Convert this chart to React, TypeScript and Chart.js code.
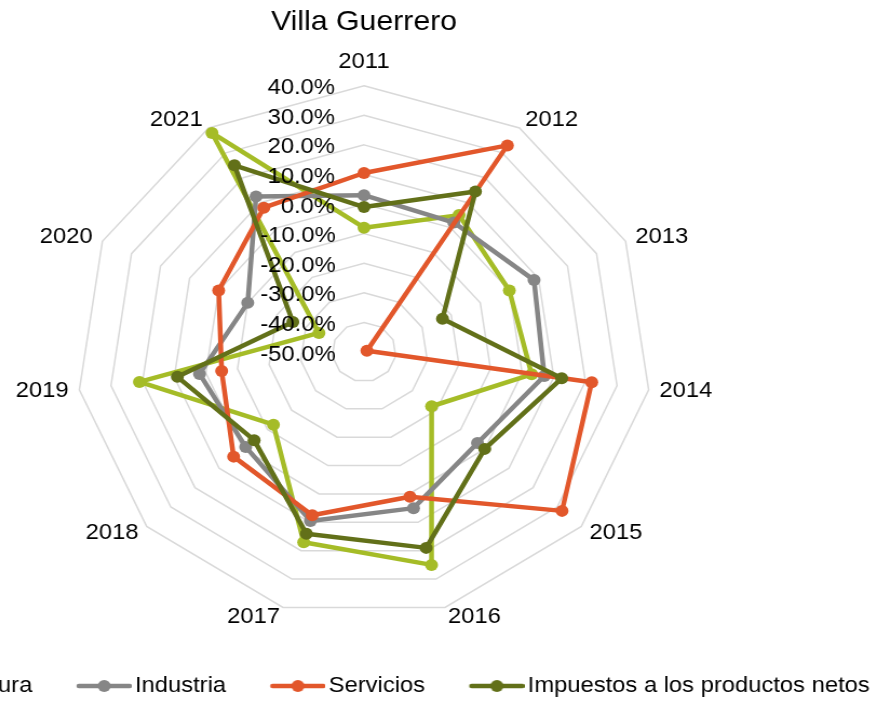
import React, { useEffect, useRef } from "react";
import { Chart, registerables } from "chart.js";

Chart.register(...registerables);

// ---------- data ----------
const title = "Villa Guerrero";
const categories = ["2011", "2012", "2013", "2014", "2015", "2016", "2017", "2018", "2019", "2020", "2021"];
const seriesNames = ["Agricultura", "Industria", "Servicios", "Impuestos a los productos netos"];
const agricultura = [-0.08, 0.05, 0.0, 0.03, -0.22, 0.25, 0.17, -0.125, 0.21, -0.345, 0.38];
const industria = [0.03, 0.02, 0.085, 0.07, -0.03, 0.05, 0.095, -0.01, 0.02, -0.1, 0.125];
const servicios = [0.105, 0.33, -0.49, 0.22, 0.32, 0.01, 0.075, 0.04, -0.05, 0.0, 0.08];
const impuestos = [-0.01, 0.145, -0.23, 0.125, 0.0, 0.19, 0.14, -0.045, 0.09, -0.255, 0.25];
const seriesColors = ["#A5BC27", "#868686", "#E2572B", "#627019"];
const axisMin = -0.5;
const axisMax = 0.4;
const axisStep = 0.1;

// ---------- layout constants ----------
const FONT = "'Liberation Sans', Arial, sans-serif";
const INNER_W = 1100;
const INNER_H = 701;
const STRETCH = 1.08;
const CSS_W = INNER_W * STRETCH;
const CENTER_X = 363.5;
const LABEL_SIZE = 22;

const measureCtx = typeof document !== "undefined" ? document.createElement("canvas").getContext("2d") : null;

function formatTick(v: number): string[] {
  const n = Math.round(v * 1000) / 10;
  const base = (n === 0 ? 0 : n).toFixed(1) + "%";
  if (!measureCtx) return ["", base];
  measureCtx.font = `${LABEL_SIZE}px ${FONT}`;
  const tw = measureCtx.measureText(base).width;
  const sw = measureCtx.measureText(" ").width;
  const trailing = tw + 2 * 27.5;
  const n2 = Math.max(0, Math.round(trailing / sw));
  // empty first line + small line height nudges the label slightly below its ring
  return ["", base + " ".repeat(n2)];
}

function makeIcon(color: string): HTMLCanvasElement {
  const c = document.createElement("canvas");
  c.width = 61;
  c.height = 14;
  const g = c.getContext("2d")!;
  g.strokeStyle = color;
  g.lineWidth = 4.5;
  g.lineCap = "round";
  g.beginPath();
  g.moveTo(12, 7);
  g.lineTo(59, 7);
  g.stroke();
  g.fillStyle = color;
  g.beginPath();
  g.arc(35.5, 7, 6, 0, Math.PI * 2);
  g.fill();
  return c;
}

export default function App() {
  const ref = useRef<HTMLCanvasElement | null>(null);

  useEffect(() => {
    if (!ref.current) return;
    Chart.defaults.font.family = FONT;
    const icons = seriesColors.map(makeIcon);
    const values = [agricultura, industria, servicios, impuestos];
    const datasets = seriesNames.map((name, i) => ({
      label: name,
      data: values[i],
      borderColor: seriesColors[i],
      backgroundColor: seriesColors[i],
      pointBackgroundColor: seriesColors[i],
      pointBorderColor: seriesColors[i],
      pointBorderWidth: 0,
      pointRadius: 6,
      pointHoverRadius: 6,
      borderWidth: 4.5,
      borderJoinStyle: "round" as const,
      borderCapStyle: "round" as const,
      fill: false,
      tension: 0,
      order: seriesNames.length - i,
    }));

    const chart = new Chart(ref.current, {
      type: "radar",
      data: { labels: categories, datasets },
      options: {
        responsive: false,
        animation: false,
        layout: { padding: { top: 0, left: 0, right: 0, bottom: -6 } },
        scales: {
          r: {
            min: axisMin,
            max: axisMax,
            beginAtZero: false,
            angleLines: { display: false },
            grid: { color: "#D9D9D9", lineWidth: 1.5, circular: false },
            ticks: {
              stepSize: axisStep,
              color: "#000",
              font: { size: LABEL_SIZE, lineHeight: "2.5px" },
              showLabelBackdrop: false,
              backdropPadding: 0,
              z: 1,
              callback: (v: any) => formatTick(Number(v)),
            },
            pointLabels: {
              color: "#000",
              font: { size: LABEL_SIZE, lineHeight: 0.01 },
              padding: (ctx: any) => (ctx.index === 0 ? 12.5 : -1),
            },
          },
        },
        plugins: {
          tooltip: { enabled: false },
          title: {
            display: true,
            text: title,
            color: "#000",
            font: { size: 28, weight: "normal" as const },
            padding: { top: 5, bottom: 17.4 },
          },
          legend: {
            display: true,
            position: "bottom",
            labels: {
              usePointStyle: true,
              pointStyleWidth: 45,
              padding: 39,
              color: "#000",
              font: { size: LABEL_SIZE },
              sort: (a: any, b: any) => a.datasetIndex - b.datasetIndex,
              generateLabels: (c: any) => {
                const items = (Chart.defaults.plugins.legend.labels as any).generateLabels(c);
                return items.map((it: any) => ({ ...it, pointStyle: icons[it.datasetIndex] }));
              },
            },
          },
        },
      } as any,
    });
    return () => chart.destroy();
  }, []);

  const left = CENTER_X - (INNER_W / 2) * STRETCH;

  return (
    <div
      style={{
        position: "fixed",
        left: 0,
        top: 0,
        width: 878,
        height: 701,
        overflow: "hidden",
        background: "#fff",
      }}
    >
      <canvas
        ref={ref}
        width={INNER_W}
        height={INNER_H}
        style={{ position: "absolute", left, top: 0, width: CSS_W, height: INNER_H }}
      />
    </div>
  );
}
